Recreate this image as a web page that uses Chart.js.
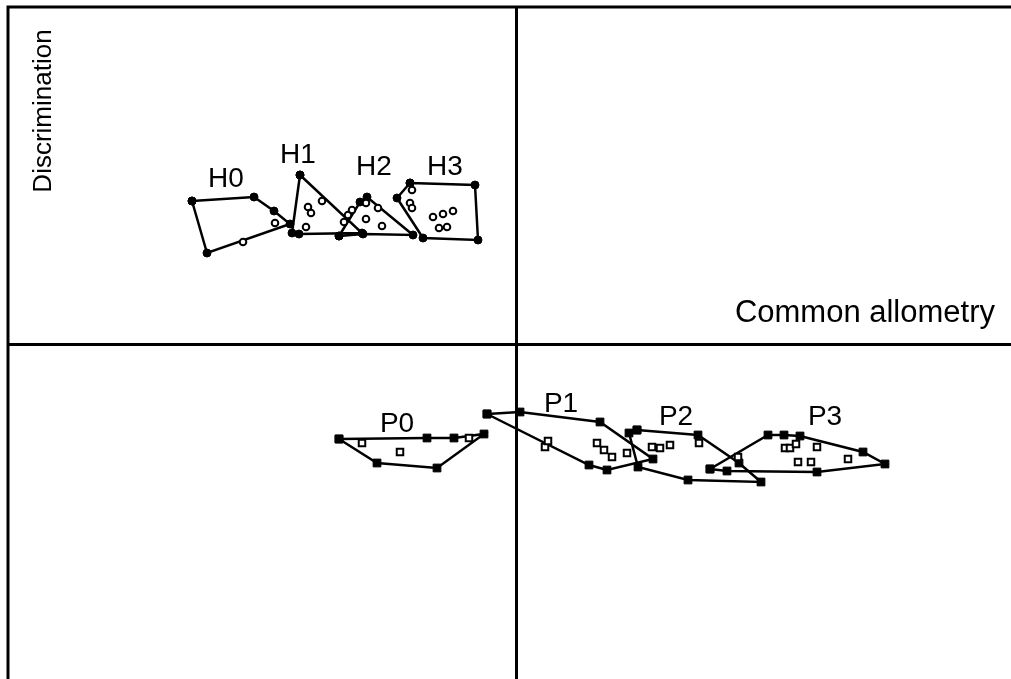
<!DOCTYPE html>
<html>
<head>
<meta charset="utf-8">
<script src="https://cdn.jsdelivr.net/npm/chart.js@4.4.1/dist/chart.umd.min.js"></script>
<style>
  html, body { margin: 0; padding: 0; background: #fff; }
  #wrap { width: 1011px; height: 679px; position: relative; }
</style>
</head>
<body>
<div id="wrap"><canvas id="chart"></canvas></div>
<script>
// group hulls (filled markers) and inner points (open markers), [x, y]
const h0Hull = [[-3.24, 1.43], [-2.62, 1.47], [-2.42, 1.33], [-2.26, 1.20], [-3.09, 0.91]];
const h0Inner = [[-2.73, 1.02], [-2.41, 1.21]];
const h1Hull = [[-2.16, 1.69], [-1.54, 1.11], [-2.17, 1.10], [-2.24, 1.11]];
const h1Inner = [[-2.10, 1.17], [-2.08, 1.37], [-2.05, 1.31], [-1.94, 1.43]];
const h2Hull = [[-1.77, 1.08], [-1.56, 1.42], [-1.49, 1.47], [-1.03, 1.09], [-1.53, 1.10]];
const h2Inner = [[-1.72, 1.22], [-1.68, 1.29], [-1.64, 1.34], [-1.50, 1.41], [-1.38, 1.36], [-1.50, 1.25], [-1.34, 1.18]];
const h3Hull = [[-1.06, 1.61], [-0.41, 1.59], [-0.38, 1.04], [-0.93, 1.06], [-1.19, 1.46]];
const h3Inner = [[-1.04, 1.54], [-1.06, 1.41], [-1.04, 1.36], [-0.83, 1.27], [-0.73, 1.30], [-0.63, 1.33], [-0.77, 1.16], [-0.69, 1.17]];

const p0Hull = [[-1.77, -0.95], [-0.89, -0.94], [-0.62, -0.94], [-0.32, -0.90], [-0.79, -1.24], [-1.39, -1.19]];
const p0Inner = [[-1.54, -0.99], [-1.16, -1.08], [-0.47, -0.94]];
const p1Hull = [[-0.29, -0.70], [0.04, -0.68], [0.84, -0.78], [1.37, -1.15], [0.91, -1.26], [0.73, -1.21]];
const p1Inner = [[0.29, -1.03], [0.32, -0.97], [0.81, -0.99], [0.88, -1.06], [0.96, -1.13], [1.11, -1.09]];
const p2Hull = [[1.21, -0.86], [1.82, -0.91], [2.23, -1.19], [2.45, -1.38], [1.72, -1.36], [1.22, -1.23], [1.13, -0.89]];
const p2Inner = [[1.36, -1.03], [1.44, -1.04], [1.54, -1.01], [1.83, -0.99]];
const p3Hull = [[1.94, -1.25], [2.52, -0.91], [2.68, -0.91], [2.84, -0.92], [3.47, -1.08], [3.69, -1.20], [3.01, -1.28], [2.11, -1.27]];
const p3Inner = [[2.22, -1.13], [2.69, -1.04], [2.74, -1.04], [2.80, -1.00], [3.01, -1.03], [2.82, -1.18], [2.95, -1.18], [3.32, -1.15]];

const groupNames = ['H0', 'H1', 'H2', 'H3', 'P0', 'P1', 'P2', 'P3'];
const labelPos = [[-2.90, 1.65], [-2.18, 1.89], [-1.42, 1.77], [-0.71, 1.77], [-1.19, -0.80], [0.45, -0.60], [1.60, -0.73], [3.09, -0.73]];

const xTitle = 'Common allometry';
const yTitle = 'Discrimination';
const xRange = [-5.08, 4.95];
const yRange = [-3.35, 3.37];

const FONT = '"Liberation Sans", Arial, sans-serif';

const toPts = arr => arr.map(([x, y]) => ({ x, y }));
const closed = arr => toPts(arr.concat([arr[0]]));

function hullSet(arr, square) {
  return {
    type: 'line', data: closed(arr), order: 2,
    borderColor: '#000', borderWidth: 2.5, fill: false, tension: 0,
    pointStyle: square ? 'rect' : 'circle',
    pointRadius: square ? 5.5 : 4,
    pointBackgroundColor: '#000', pointBorderColor: '#000', pointBorderWidth: 1
  };
}
function innerSet(arr, square) {
  return {
    type: 'scatter', data: toPts(arr), order: 1,
    pointStyle: square ? 'rect' : 'circle',
    pointRadius: square ? 4.6 : 3.3,
    pointBackgroundColor: '#fff', pointBorderColor: '#000', pointBorderWidth: 2
  };
}

const datasets = [
  hullSet(h0Hull), innerSet(h0Inner),
  hullSet(h1Hull), innerSet(h1Inner),
  hullSet(h2Hull), innerSet(h2Inner),
  hullSet(h3Hull), innerSet(h3Inner),
  hullSet(p0Hull, true), innerSet(p0Inner, true),
  hullSet(p1Hull, true), innerSet(p1Inner, true),
  hullSet(p2Hull, true), innerSet(p2Inner, true),
  hullSet(p3Hull, true), innerSet(p3Inner, true)
];

// frame, group labels and axis titles
const decor = {
  id: 'decor',
  afterDatasetsDraw(chart) {
    const { ctx, chartArea: a, scales: { x, y } } = chart;
    ctx.save();
    ctx.strokeStyle = '#000';
    ctx.lineWidth = 3;
    ctx.beginPath();
    ctx.moveTo(a.left, a.bottom);
    ctx.lineTo(a.left, a.top);
    ctx.lineTo(a.right, a.top);
    ctx.stroke();

    ctx.fillStyle = '#000';
    ctx.textAlign = 'center';
    ctx.textBaseline = 'middle';
    ctx.font = '28px ' + FONT;
    groupNames.forEach((n, i) => {
      ctx.fillText(n, x.getPixelForValue(labelPos[i][0]), y.getPixelForValue(labelPos[i][1]));
    });

    ctx.font = '31px ' + FONT;
    ctx.textAlign = 'right';
    ctx.textBaseline = 'alphabetic';
    ctx.fillText(xTitle, a.right - 16, y.getPixelForValue(0) - 22);

    ctx.translate(a.left + 36, a.top + 104);
    ctx.rotate(-Math.PI / 2);
    ctx.textAlign = 'center';
    ctx.textBaseline = 'middle';
    ctx.font = '26px ' + FONT;
    ctx.fillText(yTitle, 0, 0);
    ctx.restore();
  }
};

new Chart(document.getElementById('chart'), {
  type: 'scatter',
  data: { datasets },
  options: {
    responsive: true, maintainAspectRatio: false, animation: false,
    layout: { autoPadding: false, padding: { left: 8, top: 7, right: 0, bottom: 0 } },
    plugins: { legend: { display: false }, tooltip: { enabled: false } },
    scales: {
      x: {
        type: 'linear', min: xRange[0], max: xRange[1], position: { y: 0 },
        grid: { display: false }, ticks: { display: false },
        border: { display: true, color: '#000', width: 3 }
      },
      y: {
        type: 'linear', min: yRange[0], max: yRange[1], position: { x: 0 },
        grid: { display: false }, ticks: { display: false },
        border: { display: true, color: '#000', width: 3 }
      }
    }
  },
  plugins: [decor]
});
</script>
</body>
</html>
